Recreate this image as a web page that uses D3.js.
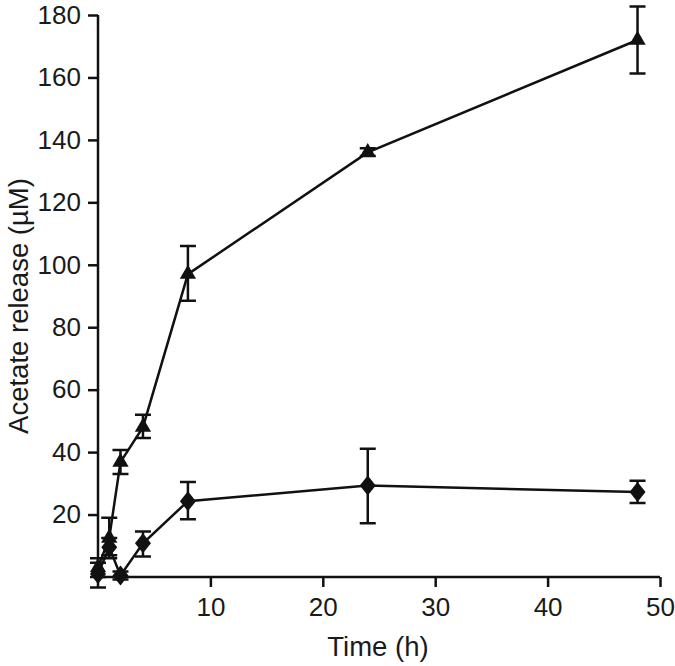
<!DOCTYPE html>
<html><head><meta charset="utf-8">
<script src="https://cdn.jsdelivr.net/npm/d3@7"></script>
<style>body{margin:0;background:#fff}svg{display:block}text{font-family:"Liberation Sans",Arial,sans-serif;fill:#1a1a1a}</style>
</head><body>
<script>
const times = [0, 1, 2, 4, 8, 24, 48];
const triangleMean = [3, 12.5, 36.8, 48, 97, 136, 172];
const triangleLow  = [0, 6, 33, 44.5, 88.5, 134.8, 161.3];
const triangleHigh = [6, 19, 40.7, 52, 106, 137.3, 182.7];
const diamondMean  = [1, 9.5, 0.5, 10.8, 24.3, 29.3, 27.2];
const diamondLow   = [-3.4, 7, -0.8, 6.6, 18.5, 17.2, 23.7];
const diamondHigh  = [4.6, 12.5, 1.8, 14.6, 30.4, 41.1, 30.8];
const xTicks = [10, 20, 30, 40, 50];
const yTicks = [20, 40, 60, 80, 100, 120, 140, 160, 180];
const xLabel = "Time (h)";
const yLabel = "Acetate release (µM)";

const W = 675, H = 666;
const svg = d3.select("body").append("svg").attr("width", W).attr("height", H);
const x = d3.scaleLinear().domain([0, 50]).range([98, 660]);
const y = d3.scaleLinear().domain([0, 180]).range([577, 15]);

const xAxis = svg.append("g").attr("transform", `translate(0,${y(0)})`)
  .call(d3.axisBottom(x).tickValues(xTicks).tickSize(10).tickPadding(11).tickSizeOuter(0));
const yAxis = svg.append("g").attr("transform", `translate(${x(0)},0)`)
  .call(d3.axisLeft(y).tickValues(yTicks).tickSize(10).tickPadding(7).tickSizeOuter(0));
[xAxis, yAxis].forEach(a => {
  a.select(".domain").attr("stroke", "#111").attr("stroke-width", 2.5);
  a.selectAll(".tick line").attr("stroke", "#111").attr("stroke-width", 2.5);
  a.selectAll(".tick text").attr("font-size", 26).attr("fill", "#1a1a1a")
    .attr("font-family", '"Liberation Sans",Arial,sans-serif');
});
xAxis.select(".domain").attr("d", `M${x(0)},0H${x(50)}`);
yAxis.select(".domain").attr("d", `M0,${y(0)}V${y(180)}`);

svg.append("text").attr("x", 378).attr("y", 656).attr("text-anchor", "middle")
  .attr("font-size", 27.5).text(xLabel);
svg.append("text").attr("transform", `translate(28,306) rotate(-90)`)
  .attr("text-anchor", "middle").attr("font-size", 27.5).text(yLabel);

function drawSeries(mean, low, high, shape) {
  const g = svg.append("g");
  const line = d3.line().x((d, i) => x(times[i])).y(d => y(d));
  g.append("path").attr("d", line(mean)).attr("fill", "none").attr("stroke", "#111").attr("stroke-width", 2.5);
  const cap = 8;
  times.forEach((t, i) => {
    const cx = x(t);
    g.append("path")
      .attr("d", `M${cx},${y(low[i])}V${y(high[i])}M${cx - cap},${y(low[i])}H${cx + cap}M${cx - cap},${y(high[i])}H${cx + cap}`)
      .attr("stroke", "#111").attr("stroke-width", 2.5).attr("fill", "none");
  });
  times.forEach((t, i) => {
    const cx = x(t), cy = y(mean[i]);
    if (shape === "tri") {
      g.append("path").attr("d", d3.symbol(d3.symbolTriangle, 115)())
        .attr("transform", `translate(${cx},${cy})`).attr("fill", "#111");
    } else {
      const w = 8, h = 10;
      g.append("path").attr("d", `M0,${-h}L${w},0L0,${h}L${-w},0Z`)
        .attr("transform", `translate(${cx},${cy})`).attr("fill", "#111");
    }
  });
}
drawSeries(diamondMean, diamondLow, diamondHigh, "dia");
drawSeries(triangleMean, triangleLow, triangleHigh, "tri");
</script>
</body></html>
